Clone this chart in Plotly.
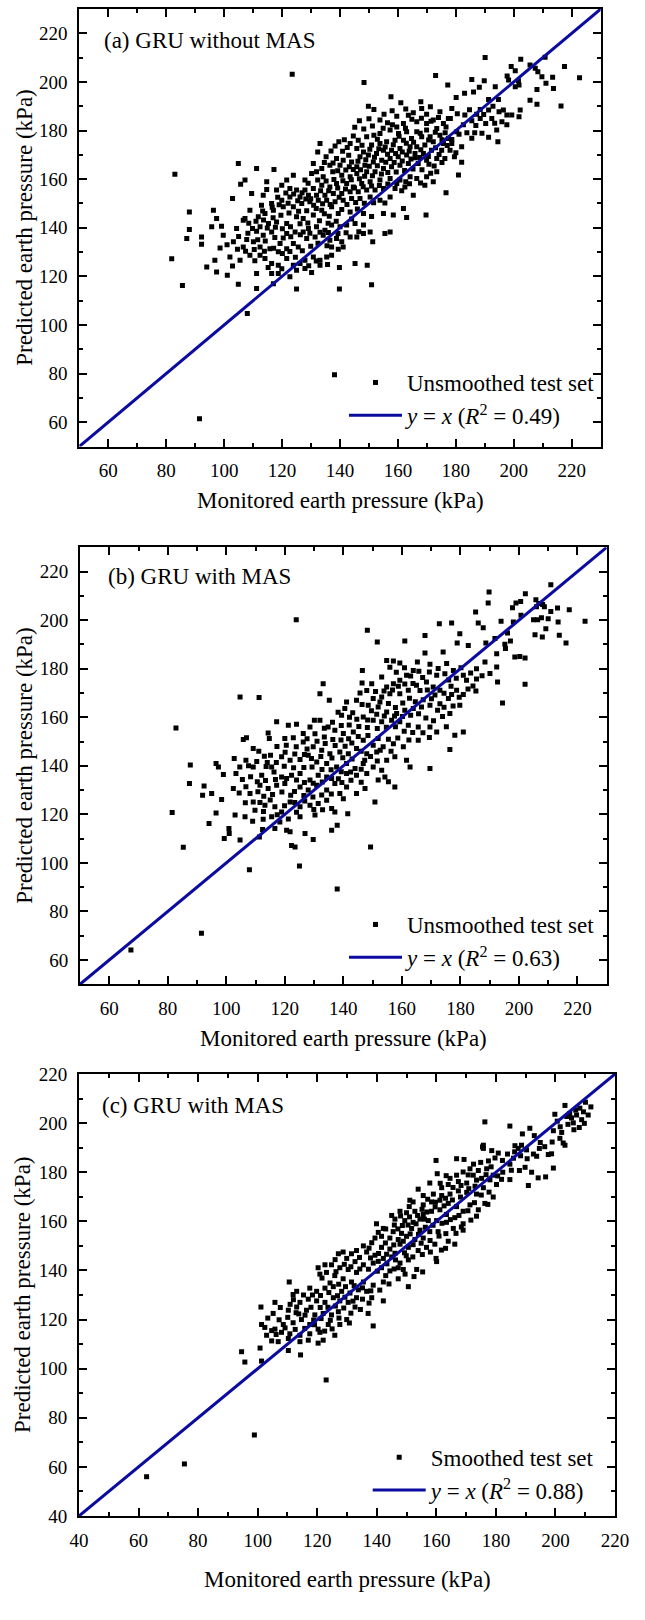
import plotly.graph_objects as go

FONT = "Liberation Serif"
LINE_COLOR = "#0B0BA0"

# ---------------- data (monitored, predicted) in kPa ----------------
A_PTS = [
    (123.5, 203.2), (91.5, 61.4), (138.1, 79.5),
    (149.8, 190.0), (151.7, 188.7), (161.0, 191.4), (167.9, 191.8), (168.2, 189.1), (159.6, 185.9), (163.6, 186.3),
    (165.3, 187.3), (169.9, 186.7), (174.5, 187.7), (177.4, 185.0), (146.7, 184.0), (150.0, 184.8), (153.8, 184.3),
    (156.4, 183.2), (159.6, 181.5), (161.9, 182.9), (166.5, 183.6), (169.9, 182.9), (172.2, 184.3), (175.7, 182.9),
    (144.6, 177.7), (146.3, 176.0), (149.2, 177.4), (151.7, 178.1), (153.8, 178.8), (157.3, 180.2), (160.2, 178.8),
    (163.0, 179.5), (166.5, 179.5), (169.9, 180.2), (173.4, 180.8), (176.6, 181.5),
    (133.1, 174.7), (138.3, 173.6), (140.9, 171.5), (143.5, 174.7), (145.8, 172.6), (148.1, 171.2), (150.9, 174.0),
    (153.8, 174.7), (156.1, 175.4), (159.0, 176.0), (161.9, 176.0), (164.7, 176.7), (168.2, 177.4), (171.1, 177.4),
    (174.5, 178.1), (177.4, 176.7),
    (132.3, 171.2), (135.2, 169.2), (138.8, 168.5), (141.1, 167.8), (144.0, 167.1), (146.9, 169.2), (149.8, 169.9),
    (152.6, 170.5), (155.0, 171.9), (157.8, 171.9), (160.7, 172.6), (164.2, 173.3), (166.5, 173.3), (169.3, 174.0),
    (172.2, 175.4), (175.7, 174.7),
    (104.9, 166.4), (111.2, 164.4), (117.2, 164.0), (130.8, 166.4), (133.7, 164.4), (136.5, 165.7), (140.0, 165.7),
    (143.2, 165.1), (145.8, 165.1), (148.6, 165.7), (151.5, 167.1), (154.4, 167.8), (157.3, 168.5), (160.1, 169.2),
    (163.0, 169.9), (165.9, 170.5), (168.8, 170.5), (171.6, 171.9), (175.1, 171.9), (178.0, 171.9),
    (83.0, 162.0), (107.2, 159.6), (105.7, 157.9), (114.7, 158.9), (121.6, 159.6), (123.9, 161.6), (127.9, 159.6),
    (130.2, 162.3), (131.9, 163.0), (134.2, 161.0), (137.5, 163.0), (140.6, 161.6), (143.5, 161.0), (145.8, 162.3),
    (149.2, 163.0), (152.1, 163.0), (155.0, 164.4), (157.8, 165.1), (160.7, 165.7), (163.6, 166.4), (167.0, 166.4),
    (169.9, 167.8), (173.4, 168.5), (176.2, 168.5),
    (109.5, 154.1), (114.7, 155.7), (113.5, 153.4), (118.1, 155.5), (119.9, 157.5), (122.7, 156.1), (125.0, 155.5),
    (127.9, 155.5), (130.8, 156.1), (133.7, 157.5), (136.5, 156.8), (138.8, 158.2), (142.3, 158.2), (144.6, 156.8),
    (147.5, 158.2), (150.4, 158.9), (153.8, 159.6), (157.3, 160.3), (160.7, 159.6), (164.2, 161.0), (166.5, 160.3),
    (169.9, 161.0), (173.4, 163.0),
    (102.9, 152.0), (108.9, 147.2), (112.9, 149.3), (116.4, 150.0), (119.9, 151.3), (122.7, 152.7), (126.2, 152.7),
    (129.1, 153.4), (131.9, 153.4), (134.8, 153.4), (137.7, 154.1), (140.6, 154.1), (143.5, 154.8), (146.3, 154.8),
    (149.2, 155.5), (152.1, 155.5), (155.0, 156.1), (159.0, 156.1), (162.4, 156.8), (165.3, 153.4), (169.3, 157.5),
    (172.2, 158.9),
    (88.0, 146.5), (96.3, 147.2), (97.4, 143.8), (107.2, 143.8), (111.8, 144.5), (114.1, 145.9), (117.0, 147.2),
    (120.4, 148.6), (123.9, 148.6), (126.8, 150.0), (129.6, 150.7), (132.5, 151.3), (135.4, 151.3), (138.3, 150.7),
    (141.1, 151.3), (144.0, 152.0), (146.9, 152.0), (150.4, 152.7), (153.8, 151.3), (157.3, 152.7),
    (95.7, 140.4), (99.1, 140.6), (104.3, 139.7), (106.6, 143.1), (109.8, 139.7), (112.4, 140.4), (115.3, 141.7),
    (118.1, 142.4), (121.6, 141.7), (125.0, 144.5), (127.3, 143.8), (130.8, 145.2), (133.7, 147.2), (137.1, 148.6),
    (139.4, 145.9), (143.5, 146.5), (148.1, 145.9), (155.0, 145.9), (158.4, 145.2), (163.0, 144.2), (169.7, 145.2),
    (176.6, 154.4), (161.9, 147.9),
    (88.0, 139.3), (87.1, 135.6), (92.2, 136.2), (92.2, 133.2), (99.7, 136.9), (103.2, 134.2), (106.6, 132.1),
    (110.1, 134.2), (113.5, 136.9), (116.4, 138.3), (119.3, 133.5), (121.6, 137.6), (124.5, 138.3), (127.3, 138.3),
    (129.1, 139.7), (131.9, 140.4), (134.8, 139.0), (137.1, 141.1), (140.0, 140.4), (142.3, 141.1), (145.2, 141.7),
    (148.1, 141.1), (145.8, 136.2), (148.1, 137.6), (150.4, 138.3), (155.5, 137.6), (157.3, 138.3),
    (98.6, 131.7), (112.4, 132.1), (115.8, 131.4), (118.7, 130.1), (121.6, 131.4), (123.9, 133.5), (125.6, 132.1),
    (128.5, 135.6), (131.4, 136.2), (134.2, 136.9), (136.5, 134.9), (138.8, 135.6), (140.6, 134.2), (143.5, 136.2),
    (141.1, 132.1), (137.1, 132.1), (151.3, 134.2),
    (81.9, 127.2), (96.8, 126.6), (102.0, 128.0), (94.0, 123.9), (97.4, 121.8), (101.1, 120.5), (102.9, 124.3),
    (108.9, 128.7), (112.4, 128.7), (114.1, 127.3), (116.4, 125.3), (118.7, 124.6), (121.6, 127.3), (123.9, 124.6),
    (126.2, 125.3), (127.9, 126.6), (130.8, 128.0), (133.1, 126.6), (135.4, 128.0), (137.1, 128.7),
    (111.2, 121.2), (116.4, 121.2), (118.7, 121.2), (122.7, 119.8), (125.0, 122.5), (127.9, 123.2), (130.2, 121.6),
    (133.1, 124.6), (139.8, 123.6), (145.2, 125.3), (149.4, 124.6),
    (85.6, 116.2), (104.9, 116.8), (111.2, 115.0), (117.0, 117.0), (125.0, 114.8), (139.8, 114.8), (150.9, 116.6),
    (108.0, 104.7),
    (148.3, 199.8), (173.0, 202.6), (177.2, 198.7), (157.6, 193.9), (190.1, 210.0), (202.4, 209.3), (199.1, 206.3),
    (200.5, 204.6), (197.7, 202.4), (198.2, 200.8), (201.6, 200.5), (200.5, 198.0), (201.8, 198.7), (205.6, 207.0),
    (207.4, 205.6), (208.3, 204.2), (210.8, 210.1), (209.7, 202.1), (211.1, 199.4), (213.4, 201.9), (213.7, 197.3),
    (208.0, 196.9), (217.5, 206.3), (222.7, 201.7), (185.5, 201.0), (189.8, 200.5), (188.1, 197.8), (186.1, 195.8),
    (183.0, 195.3), (180.1, 193.6), (193.6, 198.0), (194.7, 192.8), (191.3, 192.8),
    (178.6, 189.1), (178.1, 185.0), (183.1, 186.4), (185.5, 184.0), (188.4, 185.0), (188.4, 188.7), (191.3, 188.4),
    (190.3, 182.9), (192.4, 185.0), (194.9, 187.7), (196.4, 188.4), (197.6, 186.4), (199.3, 186.4), (202.2, 188.4),
    (201.8, 185.7), (205.6, 192.5), (208.0, 190.8), (216.3, 190.1), (195.9, 183.6), (197.6, 182.4), (194.1, 180.2),
    (191.3, 177.2), (194.5, 175.4), (185.5, 176.8), (183.8, 179.1), (181.1, 178.5), (178.6, 176.3), (178.6, 174.7),
    (180.0, 170.9), (182.0, 166.9), (180.9, 161.7), (180.3, 179.5), (182.0, 173.3), (179.5, 169.2),
    # denser core
    (141.5, 176.2), (143.0, 169.8), (147.6, 173.9), (150.3, 172.3), (152.9, 176.4), (155.6, 173.2), (158.4, 174.1),
    (160.4, 177.6), (162.9, 174.8), (165.4, 175.2), (167.7, 178.9), (170.6, 176.1), (172.9, 179.3), (175.2, 176.2),
    (154.9, 180.9), (158.1, 182.4), (162.6, 180.9), (164.8, 184.6), (168.1, 185.1), (171.4, 183.8), (174.0, 185.4),
    (176.3, 179.1), (155.2, 186.7), (158.0, 188.1), (162.7, 188.9), (171.2, 189.8), (148.2, 180.6), (151.2, 181.9),
    (145.1, 181.3),
    (136.9, 171.6), (139.6, 175.4), (142.5, 173.0), (146.2, 167.4), (148.9, 168.0), (151.9, 169.0), (153.4, 172.5),
    (156.4, 170.2), (159.2, 170.6), (161.5, 171.2), (163.9, 171.5), (166.0, 168.8), (167.9, 172.1), (170.5, 169.3),
    (173.0, 172.9), (174.2, 170.1), (177.0, 173.8),
    (134.6, 166.8), (137.6, 166.6), (139.2, 163.4), (142.0, 163.8), (144.6, 164.0), (147.1, 163.9), (150.1, 165.3),
    (152.9, 165.5), (155.8, 166.9), (158.7, 166.8), (161.5, 167.5), (164.5, 168.3), (167.6, 168.9), (170.7, 166.1),
    (172.5, 165.4), (175.2, 166.8),
    (129.0, 158.3), (132.3, 159.6), (135.2, 159.2), (137.9, 159.8), (141.0, 159.3), (143.9, 159.7), (146.7, 160.2),
    (148.5, 161.2), (151.2, 161.4), (154.3, 162.1), (156.5, 162.7), (159.4, 162.9), (162.3, 163.6), (165.2, 164.2),
    (168.3, 163.9), (171.3, 162.4), (167.8, 158.4), (162.7, 158.9),
    (118.5, 152.5), (121.3, 154.3), (124.0, 153.9), (126.9, 154.4), (129.9, 151.9), (133.3, 155.2), (136.1, 155.2),
    (139.2, 156.4), (141.9, 155.9), (145.0, 156.4), (148.0, 156.9), (150.9, 157.2), (153.6, 157.4), (156.5, 158.0),
    (159.6, 158.2), (161.3, 155.2), (164.0, 158.1),
    (113.3, 146.9), (116.6, 148.4), (119.0, 149.5), (122.1, 150.1), (125.4, 151.1), (128.2, 151.8), (130.9, 149.3),
    (134.0, 149.9), (136.6, 149.6), (139.7, 152.5), (142.4, 149.6), (145.4, 150.4), (148.4, 150.1), (151.6, 150.3),
    (155.5, 150.2),
    (108.5, 141.9), (111.0, 142.7), (113.6, 143.2), (116.9, 144.1), (119.6, 145.1), (122.4, 146.1), (125.7, 146.8),
    (128.5, 147.0), (131.8, 147.9), (134.6, 145.8), (136.3, 144.7), (140.6, 147.5), (146.0, 147.7), (150.9, 144.6),
    (105.0, 136.4), (108.2, 137.7), (111.2, 138.6), (114.9, 139.9), (117.7, 140.2), (120.1, 139.6), (122.9, 140.4),
    (126.2, 141.6), (128.9, 142.0), (132.9, 142.9), (135.9, 141.8), (138.7, 142.7), (144.0, 143.6), (146.5, 138.4),
    (101.0, 133.0), (104.6, 131.2), (107.8, 135.2), (111.6, 135.1), (114.2, 134.5), (117.5, 136.0), (120.4, 135.8),
    (123.0, 136.3), (126.3, 137.1), (129.6, 137.7), (133.1, 138.1), (136.0, 138.0), (139.3, 137.6), (142.1, 137.9),
    (107.4, 130.3), (110.4, 131.0), (113.9, 130.3), (117.1, 131.6), (120.1, 129.4), (122.7, 130.2), (127.0, 130.5),
    (129.9, 132.4), (132.4, 133.6), (135.5, 132.6), (139.4, 131.2),
    (105.5, 126.6), (110.6, 126.4), (115.2, 123.6), (119.9, 123.1), (124.6, 127.9), (129.2, 124.4), (131.8, 126.3),
    (135.7, 124.9),
    (180.5, 186.9), (182.6, 182.4), (184.7, 188.5), (187.2, 186.7), (186.9, 182.1), (189.6, 186.6), (192.8, 190.0),
    (193.4, 183.0), (189.0, 178.9), (186.5, 179.1),
]

B_PTS = [
    (123.9, 200.2), (82.8, 155.6), (81.5, 120.8), (85.3, 106.4), (87.7, 140.3), (87.4, 132.7), (67.4, 64.1), (91.5, 71.0),
    (148.2, 195.8), (151.6, 191.0), (161.0, 191.4), (167.9, 193.7), (172.8, 198.5), (177.0, 198.8), (179.8, 194.4),
    (178.9, 190.6), (182.7, 189.6), (186.1, 198.8), (187.8, 196.9), (188.7, 190.6), (191.8, 192.4), (192.4, 186.2),
    (167.9, 186.5), (174.1, 186.9),
    (146.5, 179.3), (154.8, 183.4), (157.1, 183.2), (159.3, 182.3), (165.3, 182.8), (169.6, 181.8), (175.3, 182.1),
    (174.7, 177.9), (177.6, 179.3), (181.0, 177.3), (185.5, 180.0), (188.4, 182.8), (190.1, 178.0), (192.4, 180.7),
    (192.7, 174.5), (185.3, 170.8), (181.0, 169.4), (178.7, 171.1), (182.1, 175.2), (171.9, 177.3), (163.9, 179.3),
    (161.6, 177.3), (159.3, 175.2), (157.1, 173.8), (154.8, 172.5), (153.1, 176.6), (149.7, 173.8), (146.4, 174.1),
    (145.7, 170.0),
    (150.2, 167.7), (153.1, 168.3), (155.9, 169.7), (159.3, 169.7), (162.2, 171.1), (165.0, 173.2), (168.4, 174.5),
    (170.7, 172.5), (173.0, 171.1), (175.9, 167.7), (176.4, 161.5), (179.8, 164.9), (173.0, 165.6), (169.6, 164.9),
    (166.7, 164.2), (163.9, 163.6), (161.0, 162.9), (158.2, 161.5), (154.8, 162.2), (151.9, 164.2), (148.5, 164.9),
    (144.5, 167.0), (141.1, 166.3), (140.5, 163.6), (143.2, 161.8), (146.8, 160.1), (150.2, 158.8), (153.1, 158.1),
    (156.5, 158.8), (159.3, 158.1), (162.2, 156.7), (165.6, 156.0), (169.6, 156.0), (171.9, 153.9), (178.1, 152.6),
    (181.0, 153.9), (176.4, 146.7), (165.6, 150.5), (160.5, 147.8), (157.1, 149.1), (153.6, 147.8), (150.2, 148.5),
    (146.8, 150.5), (143.4, 153.9), (140.0, 153.3), (137.1, 154.6), (134.8, 156.0), (132.0, 158.8), (130.1, 158.8),
    (133.1, 173.8), (132.0, 169.7), (135.2, 167.0), (139.4, 160.8),
    (117.2, 158.1), (121.2, 156.7), (124.0, 157.1), (126.3, 153.3), (128.6, 156.0), (114.3, 153.5), (114.7, 151.2),
    (105.8, 150.8), (106.9, 151.6), (109.2, 147.1), (104.7, 168.3), (111.2, 168.1), (120.0, 151.2), (122.9, 151.6),
    (126.3, 149.8), (129.7, 147.8), (132.6, 146.4), (135.4, 145.0), (138.8, 145.7), (141.7, 145.0), (144.5, 147.1),
    (148.0, 145.0), (151.4, 145.7), (154.8, 142.3), (157.6, 143.7), (161.6, 142.3), (162.8, 139.5), (169.6, 138.9),
    (102.7, 143.0), (106.7, 142.3), (113.0, 143.9), (115.1, 144.3), (118.9, 143.7), (121.8, 142.3), (125.2, 142.6),
    (128.0, 144.3), (130.9, 141.6), (134.3, 140.9), (137.7, 139.5), (141.1, 140.9), (144.0, 138.9), (146.8, 140.9),
    (150.2, 139.5), (153.1, 138.2),
    (96.5, 140.9), (97.3, 139.5), (103.3, 136.8), (99.0, 136.4), (109.2, 139.5), (112.1, 136.1), (115.5, 139.5),
    (118.9, 135.4), (122.3, 136.1), (125.2, 136.8), (128.6, 134.1), (131.4, 136.1), (134.3, 135.4), (138.3, 134.7),
    (141.1, 136.8), (144.5, 136.1), (148.0, 136.8), (151.9, 134.1), (155.4, 133.4), (157.6, 131.3), (154.2, 135.4),
    (92.4, 131.7), (91.9, 127.9), (95.0, 128.6), (98.4, 126.1), (102.4, 130.6), (108.1, 128.6), (111.5, 132.0),
    (114.3, 130.6), (117.2, 132.0), (120.0, 132.7), (122.0, 127.9), (125.2, 131.3), (128.0, 130.0), (130.9, 132.0),
    (134.3, 130.0), (137.1, 132.7), (138.8, 128.6), (141.1, 131.3), (144.5, 128.6), (147.4, 130.6), (150.8, 125.1),
    (109.2, 125.1), (113.2, 123.8), (109.8, 121.7), (116.6, 123.1), (118.9, 121.0), (121.8, 125.1), (125.2, 123.1),
    (128.6, 123.8), (131.4, 124.5), (134.3, 125.8), (136.0, 122.4), (137.1, 121.0), (141.5, 120.3),
    (96.5, 120.6), (94.1, 116.2), (103.0, 119.7), (106.4, 119.0), (109.0, 117.2), (112.6, 118.0), (115.5, 119.0),
    (118.3, 116.9), (112.4, 113.8), (116.6, 114.2), (120.6, 113.5), (121.8, 112.8), (125.2, 119.0), (126.9, 112.1),
    (130.3, 119.7), (129.7, 109.6), (136.0, 113.5), (137.9, 115.5),
    (100.9, 114.2), (101.0, 112.1), (99.3, 110.1), (104.7, 109.4), (111.3, 110.7), (122.3, 107.2), (123.5, 106.6),
    (149.3, 106.6), (107.9, 97.2), (125.0, 98.7), (137.9, 89.3),
    (189.8, 211.6), (189.5, 207.1), (185.2, 203.4), (197.8, 205.1), (199.0, 207.1), (200.6, 207.7), (202.2, 210.9),
    (205.8, 208.4), (206.8, 206.8), (208.1, 206.4), (210.9, 214.6), (213.2, 205.0), (210.9, 203.6), (217.2, 204.3),
    (222.6, 199.5), (206.0, 205.5), (208.7, 205.5), (193.9, 199.5), (198.1, 199.2), (200.7, 202.0), (205.0, 200.2),
    (206.4, 200.2), (207.7, 201.0), (210.0, 200.6), (213.4, 199.2), (209.2, 196.5), (205.5, 194.0), (208.0, 193.1),
    (213.8, 193.8), (216.1, 190.6), (196.1, 194.7), (197.1, 191.4), (195.2, 190.1), (195.4, 188.3), (198.6, 184.8),
    (200.3, 185.0), (202.1, 184.4), (202.1, 173.6), (194.4, 165.9),
    # denser core
    (155.9, 180.6), (158.1, 178.5), (160.9, 180.4), (163.0, 177.0), (165.8, 178.9), (167.1, 176.4), (169.4, 178.6),
    (172.4, 180.1), (176.0, 175.3), (178.6, 176.1), (180.2, 180.4), (183.5, 178.2), (185.5, 175.8), (187.4, 177.1),
    (184.3, 172.9), (182.6, 171.6),
    (148.0, 171.0), (151.0, 170.6), (153.9, 170.8), (156.8, 171.2), (158.8, 172.8), (161.0, 173.7), (163.8, 173.9),
    (166.2, 171.0), (168.7, 171.2), (171.3, 169.2), (174.4, 169.9), (177.0, 169.4), (179.6, 168.2), (176.8, 172.8),
    (146.4, 165.2), (149.6, 162.7), (152.5, 166.3), (155.4, 165.7), (157.8, 164.0), (160.3, 165.9), (162.6, 167.8),
    (164.6, 166.4), (167.3, 167.2), (170.1, 167.6), (172.2, 162.9), (174.4, 164.1), (177.5, 164.6),
    (138.2, 162.1), (142.1, 160.0), (144.6, 159.2), (148.3, 158.9), (151.4, 161.2), (154.0, 160.5), (157.5, 160.5),
    (160.2, 160.3), (163.0, 160.8), (165.7, 161.4), (168.2, 159.7), (170.8, 158.6), (173.9, 160.3), (175.2, 156.1),
    (133.5, 155.5), (136.3, 157.9), (139.3, 156.6), (142.0, 156.8), (145.3, 156.2), (148.2, 155.8), (151.6, 155.4),
    (154.7, 155.9), (157.8, 156.1), (160.8, 154.2), (163.7, 153.7), (167.2, 153.6), (169.4, 151.7),
    (127.6, 151.1), (130.3, 153.2), (133.5, 151.9), (136.4, 150.8), (139.2, 150.6), (141.8, 151.1), (145.1, 152.1),
    (148.4, 152.5), (151.9, 151.2), (155.4, 150.9), (158.6, 151.5), (162.4, 150.6),
    (117.3, 147.9), (120.5, 148.5), (123.9, 147.8), (127.6, 146.9), (131.0, 150.1), (133.8, 149.2), (137.2, 148.4),
    (140.6, 148.1), (142.9, 149.4), (146.1, 146.0), (149.3, 143.8), (152.6, 146.4), (156.3, 146.0),
    (111.1, 146.0), (114.0, 141.4), (117.1, 141.4), (120.1, 145.6), (123.4, 144.9), (126.7, 144.7), (129.1, 143.0),
    (132.3, 143.8), (136.1, 143.2), (139.8, 143.3), (143.0, 142.8), (147.3, 142.3), (151.6, 142.0),
    (104.6, 139.5), (107.6, 140.0), (110.4, 141.8), (113.6, 139.7), (116.3, 137.4), (119.8, 139.8), (123.0, 139.2),
    (126.5, 139.3), (129.3, 139.5), (132.7, 138.5), (135.8, 138.4), (139.3, 137.6), (142.5, 137.4), (146.1, 138.6),
    (105.5, 134.4), (108.3, 135.5), (110.6, 133.4), (113.4, 133.9), (116.8, 134.4), (120.6, 134.8), (124.0, 134.1),
    (126.7, 133.1), (129.7, 132.8), (132.8, 133.3), (136.0, 134.8), (139.5, 133.1), (142.6, 134.0), (146.1, 133.2),
    (104.4, 128.8), (106.7, 131.4), (110.8, 129.3), (112.8, 127.5), (115.8, 128.2), (119.0, 129.2), (123.3, 129.4),
    (126.5, 127.8), (129.6, 127.1), (132.6, 128.0), (135.9, 128.4), (140.0, 126.4),
    (106.5, 124.8), (111.5, 124.9), (115.0, 125.9), (119.9, 123.5), (123.4, 124.9), (126.8, 125.5), (129.9, 122.0),
    (132.9, 121.9), (112.7, 121.2), (117.4, 119.8), (121.2, 118.1), (124.0, 120.9),
]

C_PTS = [
    (62.7, 56.0), (75.4, 61.2), (98.9, 73.0), (123.0, 95.4),
    (175.5, 190.3), (178.6, 188.8), (179.7, 185.8), (180.8, 187.8), (159.9, 184.8), (166.8, 185.5), (169.3, 185.2),
    (160.3, 179.4), (164.6, 177.5), (166.8, 178.8), (169.0, 180.1), (171.3, 181.4), (174.1, 180.7), (176.9, 181.4),
    (179.1, 178.8), (172.4, 178.8), (175.2, 177.5), (178.0, 176.9), (180.2, 175.0), (179.1, 169.9), (175.8, 173.7),
    (173.0, 174.3), (170.2, 175.6), (167.4, 176.2), (164.0, 175.0), (161.8, 173.7), (157.8, 175.6), (153.9, 173.1),
    (155.6, 170.5), (159.0, 171.1), (161.8, 170.5), (164.6, 171.1), (167.4, 172.4), (170.2, 171.8), (173.5, 171.1),
    (176.3, 167.3), (174.1, 164.7), (171.3, 166.7), (169.0, 164.1), (166.8, 166.0), (164.0, 167.3), (161.2, 168.6),
    (158.4, 167.9), (155.6, 166.7), (152.2, 167.9), (151.1, 168.6), (150.9, 166.0), (147.8, 164.1), (150.0, 163.5),
    (152.8, 164.1), (155.6, 162.8), (158.4, 164.1), (161.2, 164.7), (163.4, 162.8), (166.2, 161.5), (169.0, 159.0),
    (169.0, 156.4), (165.7, 157.1), (163.4, 159.6), (160.1, 160.3), (157.3, 160.3), (154.5, 160.9), (152.2, 159.6),
    (149.4, 160.3), (146.1, 160.9), (145.0, 162.4), (142.2, 157.1), (145.5, 155.8), (148.3, 155.1), (151.7, 157.1),
    (154.5, 156.4), (157.8, 155.8), (160.6, 155.8), (164.0, 151.9), (166.2, 150.7), (159.5, 150.7), (155.6, 153.2),
    (152.8, 152.6), (150.0, 153.9), (147.2, 152.6), (144.4, 153.2), (141.6, 153.9), (139.4, 153.2), (139.9, 159.0),
    (135.5, 150.0), (138.3, 151.3), (141.6, 149.4), (144.4, 148.7), (147.8, 150.7), (150.6, 149.4), (153.9, 148.1),
    (156.7, 149.4), (159.9, 144.9), (160.1, 143.6), (153.4, 140.4), (155.4, 139.4), (150.6, 144.3), (147.8, 143.0),
    (145.0, 145.5), (142.2, 144.9), (139.4, 146.2), (136.6, 147.5), (133.2, 148.1), (131.5, 146.8), (128.7, 147.5),
    (127.1, 146.8), (129.9, 144.9), (132.7, 143.6), (135.5, 142.3), (138.8, 143.0), (141.6, 141.1), (144.4, 139.8),
    (147.2, 141.1), (148.9, 140.4), (147.2, 136.6), (150.6, 133.4), (142.2, 135.3), (138.8, 134.0), (135.5, 135.3),
    (133.2, 139.2), (130.4, 140.4), (127.6, 141.1), (124.8, 142.3), (122.6, 142.3), (120.3, 141.1), (123.1, 139.2),
    (125.9, 137.9), (128.7, 136.6), (131.5, 135.3), (120.9, 138.5), (110.6, 135.3), (113.1, 131.5), (117.5, 132.8),
    (119.8, 131.5), (122.6, 132.8), (125.4, 133.4), (128.2, 131.5), (131.0, 130.8), (133.8, 132.1), (136.6, 131.5),
    (138.3, 128.9), (142.2, 127.6), (133.2, 128.9), (130.4, 127.0), (127.6, 127.6), (125.4, 128.9), (122.6, 127.0),
    (119.8, 127.6), (117.0, 128.3), (114.2, 127.0), (111.9, 130.2), (105.8, 127.0), (101.1, 125.1), (105.2, 122.5),
    (110.3, 123.8), (113.1, 125.1), (116.4, 123.8), (119.2, 121.9), (122.0, 122.5), (124.8, 121.9), (127.1, 123.2),
    (129.9, 120.0), (132.7, 125.1), (137.1, 122.5), (127.6, 118.0), (123.7, 118.0), (120.3, 116.1), (117.5, 118.0),
    (114.7, 120.0), (111.9, 118.7), (108.6, 118.0), (105.8, 116.1), (101.3, 118.0), (102.4, 116.8), (104.7, 115.5),
    (108.0, 114.8), (110.8, 114.2), (114.2, 113.6), (117.5, 114.2), (120.9, 114.8), (138.8, 117.4), (125.9, 113.6),
    (122.0, 111.6), (120.3, 110.4), (117.0, 111.6), (114.2, 111.0), (110.3, 112.3), (106.9, 111.0), (104.7, 111.3),
    (100.8, 108.4), (94.6, 106.9), (95.7, 102.7), (101.3, 103.1), (110.3, 107.4), (114.4, 105.6),
    (176.3, 200.5), (184.7, 198.8), (175.8, 191.0), (175.8, 189.7), (188.9, 195.6), (191.4, 197.9), (192.9, 194.9),
    (188.6, 191.0), (186.4, 190.8), (187.5, 189.7), (190.3, 189.1), (190.5, 185.5), (189.8, 182.0), (187.9, 180.7),
    (184.7, 183.3), (182.3, 180.0), (184.7, 177.0), (190.9, 174.6), (194.2, 177.7), (196.7, 178.1), (192.0, 180.0),
    (192.6, 187.4), (193.7, 186.5), (194.6, 189.7), (197.6, 187.2), (198.7, 187.5), (198.9, 192.3), (199.3, 181.7),
    (199.8, 203.6), (200.6, 200.8), (199.3, 196.9), (202.1, 196.2), (203.2, 207.2), (203.8, 202.7), (202.6, 191.9),
    (203.2, 191.0), (205.4, 202.1), (206.0, 200.1), (207.1, 203.3), (208.0, 198.2), (208.8, 201.4), (209.4, 204.6),
    (210.1, 208.5), (211.0, 203.3), (211.9, 206.6), (204.2, 199.5),
    # denser band
    (140.5, 155.5), (143.0, 156.9), (145.9, 158.5), (148.6, 158.3), (151.0, 161.8), (153.7, 162.4), (156.8, 163.8),
    (159.6, 165.9), (162.6, 166.3), (165.4, 168.7), (168.1, 169.9), (170.9, 173.3), (173.5, 176.8), (176.7, 179.0),
    (178.4, 182.2),
    (142.9, 151.2), (145.7, 150.4), (148.9, 151.9), (151.2, 154.9), (154.0, 154.7), (156.3, 157.6), (158.9, 158.4),
    (161.9, 159.2), (164.7, 160.7), (167.6, 162.4), (170.6, 164.3), (172.8, 167.6), (175.1, 170.7), (177.7, 171.9),
    (180.6, 178.5),
    (137.4, 149.1), (140.6, 146.9), (143.3, 146.6), (146.1, 147.0), (149.3, 147.2), (152.2, 150.5), (154.9, 151.1),
    (157.9, 152.2), (160.9, 154.0), (163.2, 155.0), (166.6, 155.1), (168.4, 157.7), (171.6, 160.5), (173.5, 162.1),
    (177.3, 166.9),
    (134.2, 145.3), (137.9, 145.1), (140.5, 143.7), (143.4, 142.7), (146.3, 144.3), (149.9, 146.0), (152.1, 145.5),
    (155.3, 146.5), (158.0, 147.5), (161.7, 148.3), (163.1, 149.0),
    (126.0, 144.4), (129.1, 142.5), (131.3, 141.5), (134.3, 140.6), (137.2, 140.5), (140.2, 139.7), (143.0, 137.9),
    (145.8, 140.6), (149.5, 138.5), (152.5, 137.5), (126.3, 139.5), (121.6, 136.9), (124.3, 134.9), (127.2, 134.4),
    (129.5, 133.4), (132.4, 133.8), (135.2, 132.9), (138.0, 131.7), (141.0, 132.0), (144.1, 134.5),
    (112.0, 128.1), (115.4, 130.0), (118.4, 130.0), (121.1, 129.8), (123.9, 131.0), (126.8, 129.7), (129.3, 129.1),
    (132.0, 127.5), (135.2, 128.3), (137.4, 126.7), (107.6, 124.9), (110.9, 126.2), (113.8, 122.3), (117.9, 125.0),
    (121.0, 124.9), (123.6, 125.0), (126.1, 125.5), (128.9, 124.7), (131.3, 122.6), (134.5, 124.1),
    (103.4, 120.6), (107.2, 119.9), (110.1, 120.9), (112.9, 122.8), (115.9, 121.8), (118.8, 119.8), (121.3, 120.4),
    (124.4, 119.7), (127.3, 120.6), (130.8, 118.6), (103.0, 113.6), (106.2, 113.9), (109.2, 116.6), (112.6, 116.0),
    (115.8, 116.4), (119.1, 117.9), (122.5, 115.3), (125.0, 116.2),
    (161.3, 175.5), (163.3, 178.6), (165.6, 173.8), (168.3, 174.6), (170.7, 178.9), (172.5, 183.3), (174.9, 184.0),
    (177.5, 184.6), (163.1, 169.4), (157.1, 169.0), (159.7, 167.8), (155.2, 164.9), (153.2, 159.0), (156.0, 160.9),
    (148.0, 162.2), (147.1, 156.9), (150.5, 158.5),
    (182.2, 184.8), (183.9, 187.4), (185.9, 185.7), (186.3, 188.3), (188.3, 186.7), (181.9, 177.1), (185.2, 180.8),
    (194.9, 192.1), (196.4, 190.4), (201.6, 198.5), (204.8, 203.9), (206.8, 205.3), (208.2, 206.1), (206.2, 197.3),
    (209.7, 199.9), (201.5, 193.8),
]

PANEL_TITLES = ["(a) GRU without MAS", "(b) GRU with MAS", "(c) GRU with MAS"]
SERIES_NAMES = ["Unsmoothed test set", "Unsmoothed test set", "Smoothed test set"]
R2_VALUES = [0.49, 0.63, 0.88]
AXIS_RANGES = [(50, 230), (50, 230), (40, 220)]
X_TITLE = "Monitored earth pressure (kPa)"
Y_TITLE = "Predicted earth pressure (kPa)"

# ---------------- layout geometry (pixels) ----------------
W, H = 645, 1620
BOXES = [(79.3, 600.7, 9.0, 446.5), (80.0, 606.7, 547.3, 984.3), (79.0, 615.0, 1074.0, 1516.0)]
TITLE_POS = [(101.7, 40.0), (106.0, 576.7), (100.0, 1105.0)]
XTITLE_Y = [500.7, 1038.0, 1579.0]
YTITLE_X = [25.0, 25.0, 22.0]
LEGEND_POS = [(344.0, 361.0), (344.0, 903.0), (367.7, 1435.7)]


def px(x):
    return x / W


def py(y):
    return 1 - y / H


fig = go.Figure()
panels = [A_PTS, B_PTS, C_PTS]
annotations = []
layout_axes = {}

for i, pts in enumerate(panels):
    s = "" if i == 0 else str(i + 1)
    lo, hi = AXIS_RANGES[i]
    xs = [p[0] for p in pts]
    ys = [p[1] for p in pts]
    legend_key = "legend" + s
    fig.add_trace(go.Scatter(
        x=xs, y=ys, mode="markers", name=SERIES_NAMES[i],
        marker=dict(symbol="square", size=5, color="black", line=dict(width=0)),
        xaxis="x" + s, yaxis="y" + s, legend=legend_key,
    ))
    fig.add_trace(go.Scatter(
        x=[lo, hi], y=[lo, hi], mode="lines",
        name="<i>y</i> = <i>x</i> (<i>R</i><sup>2</sup> = %.2f)" % R2_VALUES[i],
        line=dict(color=LINE_COLOR, width=3),
        xaxis="x" + s, yaxis="y" + s, legend=legend_key,
    ))

    l, r, t, b = BOXES[i]
    common = dict(
        showline=True, linecolor="black", linewidth=2, mirror="allticks",
        ticks="inside", ticklen=8, tickwidth=1.5, tickcolor="black",
        tickmode="linear", tick0=0, dtick=20,
        minor=dict(ticks="inside", ticklen=4, tickwidth=1.5, tickcolor="black",
                   tickmode="linear", tick0=0, dtick=10),
        showgrid=False, zeroline=False, range=[lo, hi],
        tickfont=dict(family=FONT, size=19, color="black"),
        ticklabelstandoff=6,
    )
    layout_axes["xaxis" + s] = dict(common, domain=[px(l), px(r)], anchor="y" + s)
    layout_axes["yaxis" + s] = dict(common, domain=[py(b), py(t)], anchor="x" + s)

    lx, ly = LEGEND_POS[i]
    layout_axes[legend_key] = dict(
        x=px(lx), y=py(ly), xanchor="left", yanchor="top",
        bgcolor="rgba(0,0,0,0)", borderwidth=0, itemwidth=53,
        font=dict(family=FONT, size=23, color="black"),
        tracegroupgap=0,
    )

    tx, ty = TITLE_POS[i]
    annotations.append(dict(
        text=PANEL_TITLES[i], x=px(tx), y=py(ty), xref="paper", yref="paper",
        xanchor="left", yanchor="middle", showarrow=False,
        font=dict(family=FONT, size=23, color="black"),
    ))
    annotations.append(dict(
        text=X_TITLE, x=px((l + r) / 2), y=py(XTITLE_Y[i]), xref="paper", yref="paper",
        xanchor="center", yanchor="middle", showarrow=False,
        font=dict(family=FONT, size=23, color="black"),
    ))
    annotations.append(dict(
        text=Y_TITLE, x=px(YTITLE_X[i]), y=py((t + b) / 2), xref="paper", yref="paper",
        xanchor="center", yanchor="middle", showarrow=False, textangle=-90,
        font=dict(family=FONT, size=23, color="black"),
    ))

fig.update_layout(
    width=W, height=H, margin=dict(l=0, r=0, t=0, b=0),
    paper_bgcolor="white", plot_bgcolor="white",
    font=dict(family=FONT, size=19, color="black"),
    showlegend=True, annotations=annotations,
    template="none",
    **layout_axes,
)

fig.write_html("out.html")
